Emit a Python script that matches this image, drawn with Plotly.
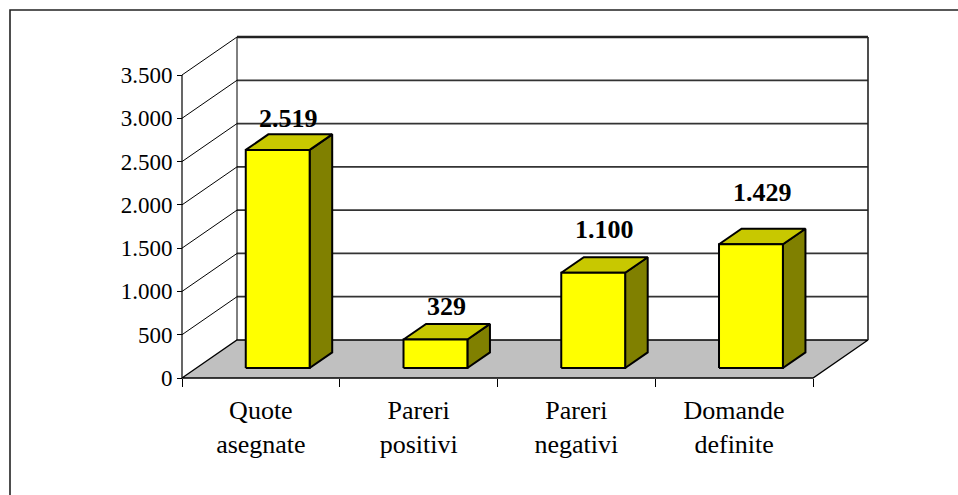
import plotly.graph_objects as go

# ---------------- data ----------------
categories = ["Quote<br>asegnate", "Pareri<br>positivi", "Pareri<br>negativi", "Domande<br>definite"]
values = [2519, 329, 1100, 1429]
value_labels = ["2.519", "329", "1.100", "1.429"]
y_ticks = [0, 500, 1000, 1500, 2000, 2500, 3000, 3500]
y_tick_labels = ["0", "500", "1.000", "1.500", "2.000", "2.500", "3.000", "3.500"]

# ---------------- style / geometry ----------------
W, H = 958, 495
ML, MR, MT, MB = 170, 80, 28, 105
PLOT_W, PLOT_H = W - ML - MR, H - MT - MB
PX_PER_CAT = 157.75
PX_PER_VAL = 303 / 3500
AX_PAD = 12
DX = 55 / PX_PER_CAT          # depth offset in category units
DY = 38 / PX_PER_VAL          # depth offset in value units
N = len(categories)
YMAX = y_ticks[-1]
BAR_CENTER_OFF = 0.515
BAR_HALF = 0.2025
F_FRONT = 0.263
F_BACK = F_FRONT + 0.41
LABEL_GAP = [16, 17, 28, 36]
FONT = "Liberation Serif"

FRONT_COL = "#FFFF00"
TOP_COL = "#C8C800"
SIDE_COL = "#808000"
FLOOR_COL = "#C0C0C0"

fig = go.Figure()

def line_trace(xs, ys, color, width):
    fig.add_trace(go.Scatter(x=xs, y=ys, mode="lines", line=dict(color=color, width=width),
                             hoverinfo="skip", showlegend=False))

def poly(xs, ys, fill, lw=2):
    fig.add_trace(go.Scatter(x=xs + [xs[0]], y=ys + [ys[0]], mode="lines", fill="toself",
                             fillcolor=fill, line=dict(color="black", width=lw),
                             hoverinfo="skip", showlegend=False))

# floor
poly([0, N, N + DX, DX], [0, 0, DY, DY], FLOOR_COL, 1.3)

# back wall gridlines
gx, gy = [], []
for v in y_ticks[1:-1]:
    gx += [DX, N + DX, None]
    gy += [v + DY, v + DY, None]
line_trace(gx, gy, "#333333", 1.8)

# left wall diagonals
dx_, dy_ = [], []
for v in y_ticks[1:]:
    dx_ += [0, DX, None]
    dy_ += [v, v + DY, None]
line_trace(dx_, dy_, "black", 1)

# wall frame
line_trace([DX, DX], [DY, YMAX + DY], "black", 1)
line_trace([N + DX, N + DX], [DY, YMAX + DY], "#222222", 1.6)
line_trace([DX, N + DX], [YMAX + DY, YMAX + DY], "#222222", 2.4)
# front value axis
line_trace([0, 0], [0, YMAX], "black", 1.2)

# bars
for i, v in enumerate(values):
    c = i + BAR_CENTER_OFF
    xl, xr = c - BAR_HALF, c + BAR_HALF
    fx, fy = F_FRONT * DX, F_FRONT * DY
    bx, by = F_BACK * DX, F_BACK * DY
    poly([xr + fx, xr + bx, xr + bx, xr + fx], [fy, by, v + by, v + fy], SIDE_COL)
    poly([xl + fx, xr + fx, xr + bx, xl + bx], [v + fy, v + fy, v + by, v + by], TOP_COL)
    poly([xl + fx, xr + fx, xr + fx, xl + fx], [fy, fy, v + fy, v + fy], FRONT_COL)
    fig.add_annotation(x=c + (F_FRONT + F_BACK) / 2 * DX, y=v + by, yshift=LABEL_GAP[i],
                       text="<b>%s</b>" % value_labels[i], showarrow=False, yanchor="middle",
                       font=dict(family=FONT, size=26, color="black"))

# outer border (paper coordinates from pixels)
def px_to_paper_x(px):
    return (px - ML) / PLOT_W

def px_to_paper_y(py):
    return (H - MB - py) / PLOT_H

fig.add_shape(type="path",
              path="M %f,%f L %f,%f L %f,%f" % (px_to_paper_x(10), px_to_paper_y(H + 5),
                                                 px_to_paper_x(10), px_to_paper_y(10),
                                                 px_to_paper_x(W + 5), px_to_paper_y(10)),
              xref="paper", yref="paper", line=dict(color="#222222", width=1.6))

fig.update_layout(
    width=W, height=H,
    margin=dict(l=ML, r=MR, t=MT, b=MB),
    paper_bgcolor="white", plot_bgcolor="rgba(0,0,0,0)",
    showlegend=False,
    font=dict(family=FONT),
    xaxis=dict(range=[-AX_PAD / PX_PER_CAT, (PLOT_W - AX_PAD) / PX_PER_CAT],
               anchor="free", position=AX_PAD / PLOT_H, automargin=False,
               tickmode="array", tickvals=[i + 0.5 for i in range(N)], ticktext=categories,
               ticks="", showgrid=False, zeroline=False, showline=False,
               tickfont=dict(family=FONT, size=26, color="black"),
               ticklabelstandoff=14,
               minor=dict(tickmode="array", tickvals=list(range(N + 1)), ticks="outside",
                          ticklen=8, tickcolor="black", tickwidth=1, showgrid=False),
               fixedrange=True),
    yaxis=dict(range=[-AX_PAD / PX_PER_VAL, (PLOT_H - AX_PAD) / PX_PER_VAL],
               anchor="free", position=AX_PAD / PLOT_W, automargin=False,
               tickmode="array", tickvals=y_ticks, ticktext=y_tick_labels,
               ticks="outside", ticklen=5, tickcolor="black", tickwidth=1,
               showgrid=False, zeroline=False, showline=False,
               tickfont=dict(family=FONT, size=23, color="black"),
               fixedrange=True),
)

fig.write_html("out.html", config={"displayModeBar": False, "staticPlot": True},
               post_script="document.body.style.margin='0';")
